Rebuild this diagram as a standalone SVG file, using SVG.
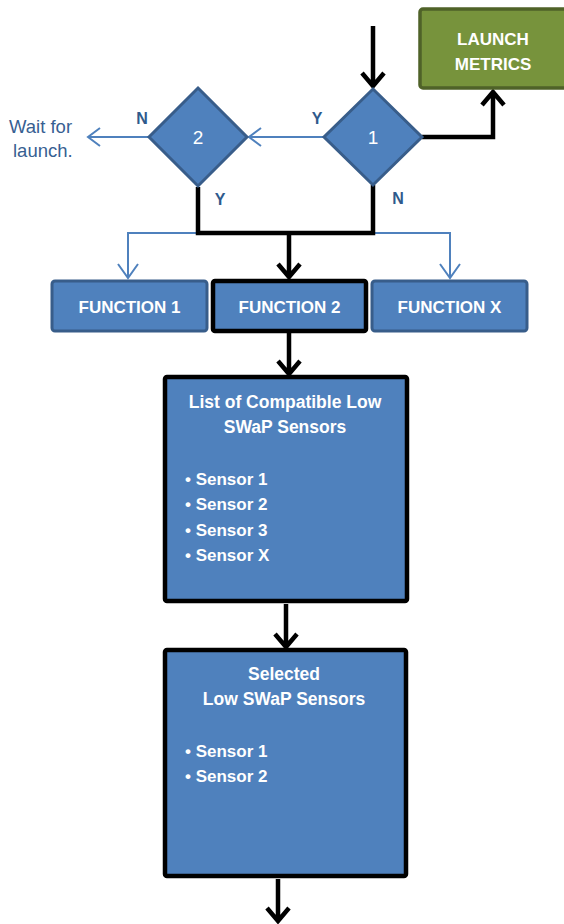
<svg xmlns="http://www.w3.org/2000/svg" width="564" height="924" viewBox="0 0 564 924">
<style>
.box{fill:#4F81BD;stroke:#385D8A;stroke-width:3}
.bbox{fill:#4F81BD;stroke:#000;stroke-width:4.5}
.dia{fill:#4F81BD;stroke:#385D8A;stroke-width:3}
.wt{font-family:"Liberation Sans",Arial,sans-serif;font-size:17px;font-weight:bold;fill:#fff}
.tt{font-size:17.5px}
.num{font-family:"Liberation Sans",Arial,sans-serif;font-size:19px;fill:#fff}
.lbl{font-family:"Liberation Sans",Arial,sans-serif;font-size:16px;font-weight:bold;fill:#2F5A8C}
.wait{font-family:"Liberation Sans",Arial,sans-serif;font-size:18.5px;fill:#376092}
.blk{fill:none;stroke:#000;stroke-width:4.5;stroke-linejoin:miter}
.blu{fill:none;stroke:#4F81BD;stroke-width:2}
</style>
<g id="connectors">
  <path class="blu" d="M128,278 V233 H450 V278"/>
  <path class="blu" d="M118,264 L128,278 L138,264 M440,264 L450,278 L460,264"/>
  <path class="blu" d="M324,137 H249 M261,128 L249,137 L261,146"/>
  <path class="blu" d="M148,137 H88 M100,128 L88,137 L100,146"/>
  <path class="blk" d="M373,26 V86 M362,73 L373,86 L384,73"/>
  <path class="blk" d="M422,137 H493 V92 M482,105 L493,92 L504,105"/>
  <path class="blk" d="M198,187 V233 H373 V185"/>
  <path class="blk" d="M289,233 V277 M278,264 L289,277 L300,264"/>
  <path class="blk" d="M289,333 V374 M278,361 L289,374 L300,361"/>
  <path class="blk" d="M286,604 V647 M275,634 L286,647 L297,634"/>
  <path class="blk" d="M278,879 V921 M267,908 L278,921 L289,908"/>
</g>
<g id="launch-metrics">
  <rect x="420" y="9" width="150" height="79" rx="3" fill="#77933C" stroke="#4F6228" stroke-width="3.5"/>
  <text class="wt" x="493" y="45" text-anchor="middle">LAUNCH</text>
  <text class="wt" x="493" y="70" text-anchor="middle">METRICS</text>
</g>
<g id="decision-1">
  <polygon class="dia" points="373,89 422,137 373,185 324,137"/>
  <text class="num" x="373" y="144" text-anchor="middle">1</text>
</g>
<g id="decision-2">
  <polygon class="dia" points="198,88 247,137 198,186 149,137"/>
  <text class="num" x="198" y="144" text-anchor="middle">2</text>
</g>
<g id="labels">
  <text class="lbl" x="142" y="124" text-anchor="middle">N</text>
  <text class="lbl" x="317" y="124" text-anchor="middle">Y</text>
  <text class="lbl" x="220" y="205" text-anchor="middle">Y</text>
  <text class="lbl" x="398" y="204" text-anchor="middle">N</text>
</g>
<g id="wait-for-launch">
  <text class="wait" x="9" y="133">Wait for</text>
  <text class="wait" x="13" y="157">launch.</text>
</g>
<g id="function-1">
  <rect class="box" x="52" y="281" width="155" height="50" rx="3"/>
  <text class="wt" x="129.5" y="313" text-anchor="middle">FUNCTION 1</text>
</g>
<g id="function-2">
  <rect class="bbox" x="213" y="281" width="153" height="50" rx="2"/>
  <text class="wt" x="289.5" y="313" text-anchor="middle">FUNCTION 2</text>
</g>
<g id="function-x">
  <rect class="box" x="372" y="281" width="155" height="50" rx="3"/>
  <text class="wt" x="449.5" y="313" text-anchor="middle">FUNCTION X</text>
</g>
<g id="compatible-sensors">
  <rect class="bbox" x="165" y="377" width="242" height="224" rx="2"/>
  <text class="wt tt" x="285" y="408" text-anchor="middle">List of Compatible Low</text>
  <text class="wt tt" x="285" y="433" text-anchor="middle">SWaP Sensors</text>
  <text class="wt" x="185" y="485">• Sensor 1</text>
  <text class="wt" x="185" y="510">• Sensor 2</text>
  <text class="wt" x="185" y="536">• Sensor 3</text>
  <text class="wt" x="185" y="561">• Sensor X</text>
</g>
<g id="selected-sensors">
  <rect class="bbox" x="165" y="650" width="241" height="226" rx="2"/>
  <text class="wt tt" x="284" y="680" text-anchor="middle">Selected</text>
  <text class="wt tt" x="284" y="705" text-anchor="middle">Low SWaP Sensors</text>
  <text class="wt" x="185" y="757">• Sensor 1</text>
  <text class="wt" x="185" y="782">• Sensor 2</text>
</g>
</svg>
